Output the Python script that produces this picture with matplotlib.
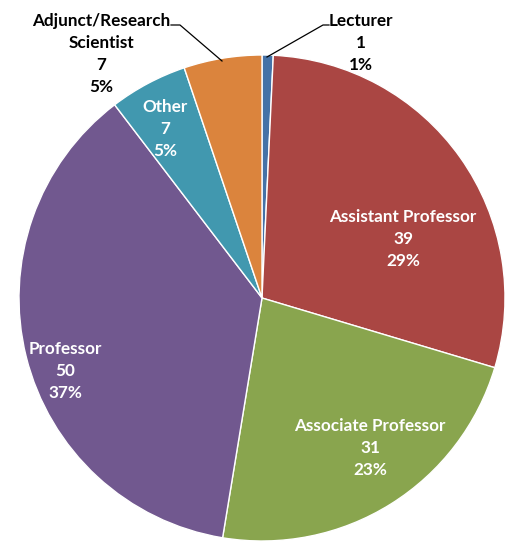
import matplotlib.pyplot as plt

# Faculty rank counts
ranks = ['Lecturer', 'Assistant Professor', 'Associate Professor', 'Professor',
         'Other', 'Adjunct/Research\nScientist']
counts = [1, 39, 31, 50, 7, 7]
colors = ['#4572A7', '#AA4643', '#89A54E', '#71588F', '#4198AF', '#DB843D']

W, H = 509, 543
fig = plt.figure(figsize=(W / 100, H / 100), dpi=100)
ax = fig.add_axes([0, 0, 1, 1])

cx, cy, r = 262, H - 298, 243
wedges, _ = ax.pie(counts, colors=colors, startangle=90, counterclock=False,
                   center=(cx, cy), radius=r, frame=True,
                   wedgeprops=dict(edgecolor='white', linewidth=1))
ax.set_xlim(0, W)
ax.set_ylim(0, H)
ax.axis('off')

total = sum(counts)
# label positions in pixels (x, y from top), text colour
label_pos = [(361, 43, 'black'), (403, 239, 'white'), (370, 448, 'white'),
             (65, 371, 'white'), (165, 129, 'white'), (101, 54, 'black')]
for name, n, (x, y, c) in zip(ranks, counts, label_pos):
    txt = f"{name}\n{n}\n{round(100 * n / total)}%"
    ax.text(x, H - y, txt, ha='center', va='center', multialignment='center',
            color=c, fontsize=12.3, fontweight='bold', family='Lato', linespacing=1.48)

# leader lines
ax.plot([267, 323, 329], [H - 57, H - 25, H - 25], color='black', lw=0.9)
ax.plot([222, 180, 171], [H - 61, H - 25, H - 25], color='black', lw=0.9)

fig.savefig('out.png', dpi=100, facecolor='white')
